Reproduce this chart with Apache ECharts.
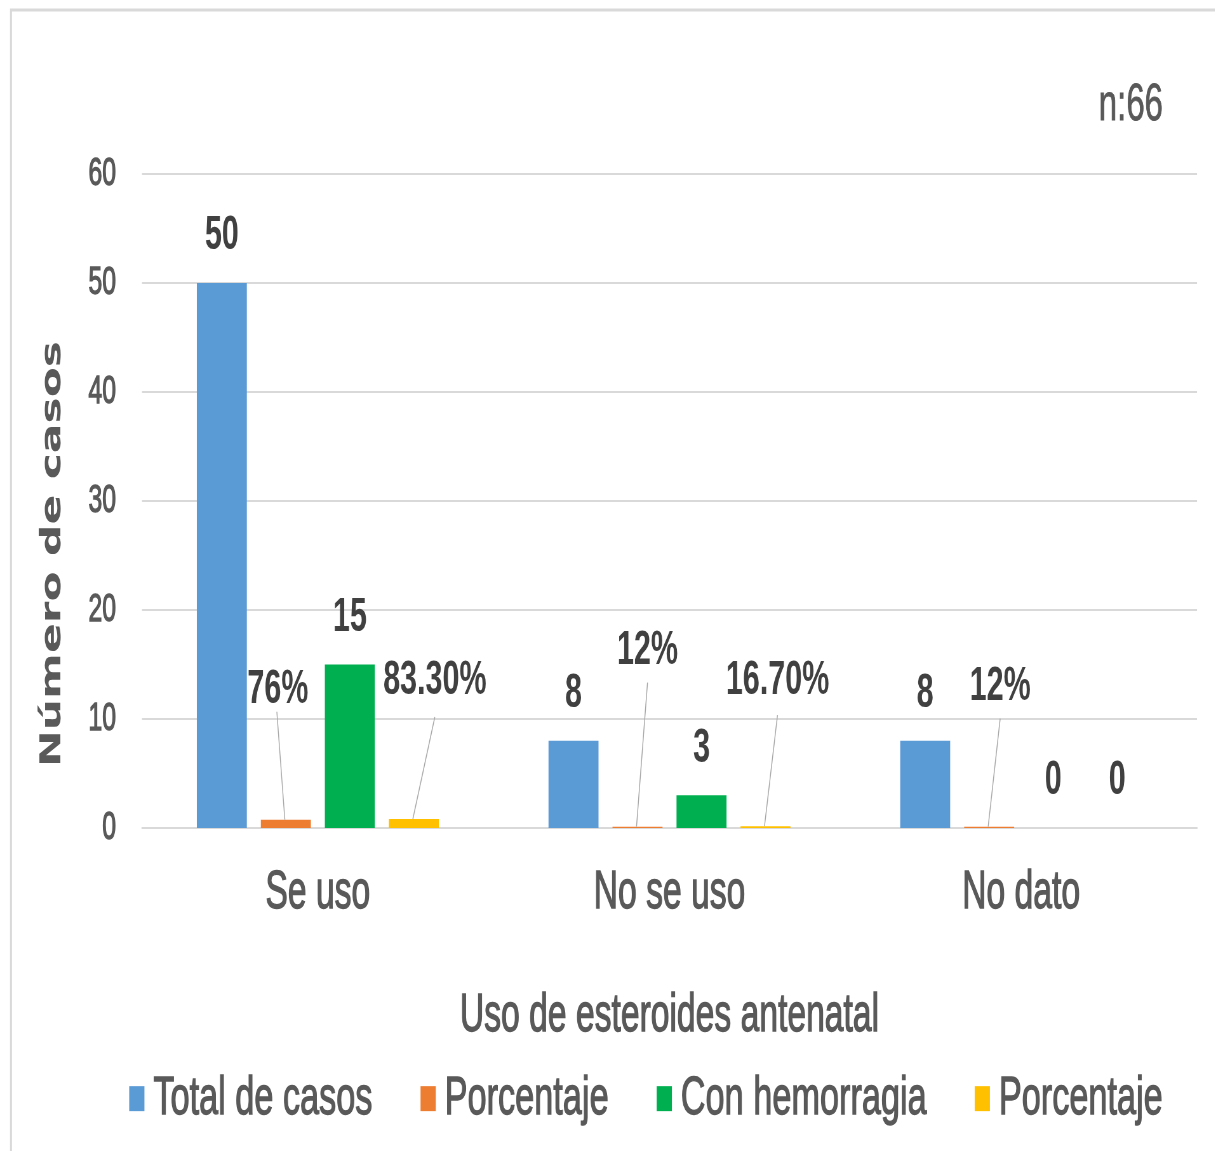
<!DOCTYPE html>
<html>
<head>
<meta charset="utf-8">
<title>Uso de esteroides antenatal</title>
<script src="https://cdn.jsdelivr.net/npm/echarts@6/dist/echarts.min.js"></script>
<style>
  html, body { margin: 0; padding: 0; background: #ffffff; overflow: hidden; }
  #wrap { width: 1215px; height: 1151px; overflow: hidden; position: relative; }
  /* the chart is laid out wide, then compressed horizontally into the frame */
  #chart { width: 1913px; height: 1151px; transform: scaleX(0.635); transform-origin: 0 0; }
</style>
</head>
<body>
<div id="wrap"><div id="chart"></div></div>
<script>
// ---- data ----
const categories = ['Se uso', 'No se uso', 'No dato'];
const totalCasos = [50, 8, 8];
const porcentajeTotal = [0.76, 0.12, 0.12];
const conHemorragia = [15, 3, 0];
const porcentajeHemorragia = [0.833, 0.167, 0];
const yTickValues = [0, 10, 20, 30, 40, 50, 60];
const seriesNames = ['Total de casos', 'Porcentaje', 'Con hemorragia', 'Porcentaje'];
const sampleNote = 'n:66';
const xTitle = 'Uso de esteroides antenatal';
const yTitle = 'Número de casos';

// ---- layout / style ----
const SX = 0.635;               // horizontal compression applied by CSS
const W = 1913;                 // pre-compression width
const px = v => v / SX;         // convert an on-screen x distance to chart units
const FONT = "'Liberation Sans', Arial, sans-serif";
const GREY = '#595959';
const LABEL = '#404040';
const colors = ['#5B9BD5', '#ED7D31', '#00B050', '#FFC000'];
const BAR_W = px(50);
const BAR_GAP = 0.28;           // fraction of bar width between bars of a group
// slightly heavier strokes for the regular-weight texts
const heavy = { textBorderColor: GREY, textBorderWidth: 1.3 };

// leader-line labels: [label dx, label dy, line end dx, line end dy]
// in screen px, relative to the bar's top centre
const pctLabelShift = {
  1: [[-8, -130, -9, -108], [10, -176, 10, -144], [11, -140, 11, -108]],
  3: [[21, -138, 21, -102], [12, -145, 12, -111], null]
};

const fmtCount = p => String(p.value);
const fmtPctWhole = p => Math.round(p.value * 100) + '%';
const fmtPctTwo = p => (p.value === 0 ? '0' : (p.value * 100).toFixed(2) + '%');

const legendKeys = ['total', 'pctTotal', 'hemorragia', 'pctHemorragia'];

// horizontal offset of bar `idx` from its category centre (4 bars per group)
function barOffset(idx) {
  const stride = BAR_W * (1 + BAR_GAP);
  return (idx - 1.5) * stride;
}

function barSeries(idx, values, formatter, shifted) {
  return {
    type: 'bar',
    name: legendKeys[idx],
    data: values,
    barWidth: BAR_W,
    barGap: (BAR_GAP * 100) + '%',
    itemStyle: { color: colors[idx] },
    label: {
      show: true,
      position: 'top',
      distance: 23,
      formatter: formatter,
      fontFamily: FONT,
      fontWeight: 'bold',
      fontSize: 48,
      color: LABEL
    },
    labelLayout: shifted ? function (params) {
      const sh = pctLabelShift[idx] && pctLabelShift[idx][params.dataIndex];
      if (!sh) return {};
      const r = params.rect;
      return {
        x: r.x + r.width / 2 + px(sh[0]),
        y: r.y + sh[1],
        align: 'center',
        verticalAlign: 'middle'
      };
    } : undefined
  };
}

// leader lines for the moved percentage labels: [category index, value, series index]
const leaderData = [];
[[1, porcentajeTotal], [3, porcentajeHemorragia]].forEach(([s, arr]) => {
  arr.forEach((v, i) => { if (pctLabelShift[s][i]) leaderData.push([i, v, s]); });
});

const leaderSeries = {
  type: 'custom',
  name: 'leaders',
  coordinateSystem: 'cartesian2d',
  silent: true,
  z: 5,
  data: leaderData,
  renderItem: function (params, api) {
    const cat = api.value(0), val = api.value(1), s = api.value(2);
    const top = api.coord([cat, val]);
    const cx = top[0] + barOffset(s);
    const sh = pctLabelShift[s][cat];
    return {
      type: 'line',
      shape: { x1: cx - px(1), y1: top[1], x2: cx + px(sh[2]), y2: top[1] + sh[3] },
      style: { stroke: '#A6A6A6', lineWidth: 1.4 }
    };
  }
};

const chart = echarts.init(document.getElementById('chart'), null, { renderer: 'canvas', width: W, height: 1151 });

const option = {
  animation: false,
  backgroundColor: '#ffffff',
  color: colors,
  grid: { left: px(142), right: W - px(1197), top: 174, bottom: 1151 - 828, containLabel: false },
  legend: {
    left: px(126),
    top: 1066,
    itemWidth: 24,
    itemHeight: 25,
    itemGap: 75,
    icon: 'rect',
    selectedMode: false,
    formatter: name => seriesNames[legendKeys.indexOf(name)],
    textStyle: Object.assign({ fontFamily: FONT, fontSize: 54, color: GREY, padding: [0, 0, 0, 9] }, heavy),
    data: legendKeys
  },
  xAxis: {
    type: 'category',
    data: categories,
    name: xTitle,
    nameLocation: 'middle',
    nameGap: 162,
    nameTextStyle: Object.assign({ fontFamily: FONT, fontSize: 53, color: GREY }, heavy),
    axisLine: { show: true, lineStyle: { color: '#D9D9D9', width: 2 } },
    axisTick: { show: false },
    axisLabel: Object.assign({ fontFamily: FONT, fontSize: 53, color: GREY, margin: 39 }, heavy)
  },
  yAxis: {
    type: 'value',
    min: yTickValues[0],
    max: yTickValues[yTickValues.length - 1],
    interval: yTickValues[1] - yTickValues[0],
    axisLine: { show: false },
    axisTick: { show: false },
    splitLine: { lineStyle: { color: '#D9D9D9', width: 2 } },
    axisLabel: Object.assign({ fontFamily: FONT, fontSize: 39, color: GREY, margin: px(26) }, heavy)
  },
  graphic: [
    {
      type: 'rect',
      z: -10,
      shape: { x: px(11), y: 10, width: 4000, height: 3000 },
      style: { fill: 'none', stroke: '#D9D9D9', lineWidth: 3 }
    },
    {
      type: 'text',
      x: px(1163),
      y: 106,
      style: { text: sampleNote, textAlign: 'right', textVerticalAlign: 'middle', font: '52px ' + FONT, fill: GREY, stroke: GREY, lineWidth: 0.8 }
    },
    {
      type: 'text',
      x: px(53),
      y: 554,
      rotation: Math.PI / 2,
      style: { text: yTitle, textAlign: 'center', textVerticalAlign: 'middle', font: "bold 44px 'DejaVu Sans', Verdana, sans-serif", fill: GREY }
    }
  ],
  series: [
    barSeries(0, totalCasos, fmtCount, false),
    barSeries(1, porcentajeTotal, fmtPctWhole, true),
    barSeries(2, conHemorragia, fmtCount, false),
    barSeries(3, porcentajeHemorragia, fmtPctTwo, true),
    leaderSeries
  ]
};

chart.setOption(option);
</script>
</body>
</html>
